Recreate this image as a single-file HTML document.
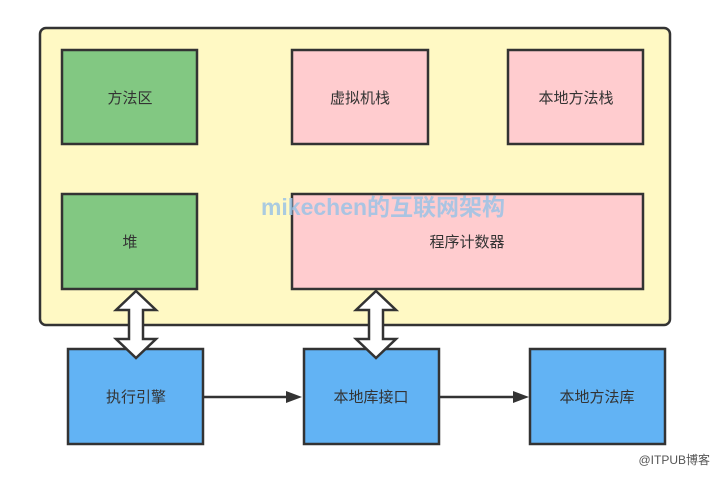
<!DOCTYPE html>
<html><head><meta charset="utf-8"><style>
body{margin:0;background:#fff;width:718px;height:473px;overflow:hidden}
text{font-family:"Liberation Sans","Noto Sans CJK SC",sans-serif}
</style></head><body>
<svg width="718" height="473" viewBox="0 0 718 473">
<rect x="40" y="28" width="630" height="297" rx="6" fill="#fff9c4" stroke="#333" stroke-width="2.5"/>
<g stroke="#333" stroke-width="2.5">
<rect x="62" y="50" width="135" height="94" fill="#82c882"/>
<rect x="292" y="50" width="136" height="94" fill="#ffcccf"/>
<rect x="508" y="50" width="135" height="94" fill="#ffcccf"/>
<rect x="62" y="194" width="135" height="95" fill="#82c882"/>
<rect x="292" y="194" width="351" height="95" fill="#ffcccf"/>
<rect x="68" y="349" width="135" height="95" fill="#62b3f4"/>
<rect x="304" y="349" width="135" height="95" fill="#62b3f4"/>
<rect x="530" y="349" width="135" height="95" fill="#62b3f4"/>
</g>
<g font-size="15" fill="#333" text-anchor="middle">
<text x="130" y="103">方法区</text>
<text x="360" y="103">虚拟机栈</text>
<text x="576" y="103">本地方法栈</text>
<text x="130" y="247">堆</text>
<text x="467" y="247">程序计数器</text>
<text x="136" y="402">执行引擎</text>
<text x="371" y="402">本地库接口</text>
<text x="597" y="402">本地方法库</text>
</g>
<text x="383" y="215" font-size="23" font-weight="bold" fill="#9cc3e6" text-anchor="middle" opacity="0.85">mikechen的互联网架构</text>
<g fill="#fff" stroke="#333" stroke-width="2.5" stroke-linejoin="miter">
<polygon points="136,291 156,310 143,310 143,339 156,339 136,358 116,339 129,339 129,310 116,310"/>
<polygon points="376,291 396,310 383,310 383,339 396,339 376,358 356,339 369,339 369,310 356,310"/>
</g>
<g stroke="#333" stroke-width="2.5">
<line x1="204" y1="397" x2="290" y2="397"/>
<line x1="440" y1="397" x2="516" y2="397"/>
</g>
<polygon points="302,397 286,391 286,403" fill="#333"/>
<polygon points="529,397 513,391 513,403" fill="#333"/>
<text x="710" y="464" font-size="12" fill="#555" text-anchor="end">@ITPUB博客</text>
</svg>
</body></html>
